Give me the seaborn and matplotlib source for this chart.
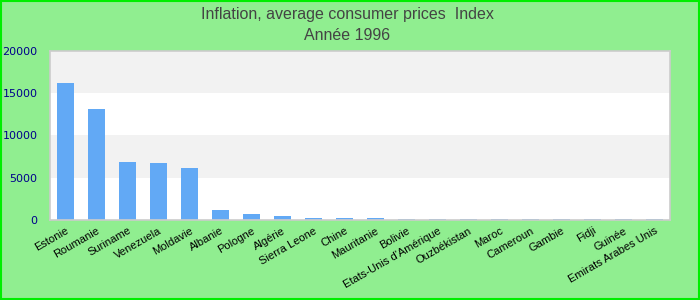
import matplotlib
matplotlib.use("Agg")
import matplotlib.pyplot as plt
import seaborn as sns
import pandas as pd
from matplotlib.patches import Rectangle

countries = ["Estonie", "Roumanie", "Suriname", "Venezuela", "Moldavie", "Albanie",
             "Pologne", "Algérie", "Sierra Leone", "Chine", "Mauritanie", "Bolivie",
             "Etats-Unis d'Amérique", "Ouzbékistan", "Maroc", "Cameroun", "Gambie",
             "Fidji", "Guinée", "Emirats Arabes Unis"]
values = [16200, 13150, 6870, 6750, 6150, 1190, 720, 480, 250, 240, 230,
          125, 120, 120, 120, 120, 120, 120, 120, 120]
yticks = [0, 5000, 10000, 15000, 20000]
title_lines = ["Inflation, average consumer prices  Index", "Année 1996"]

df = pd.DataFrame({"pays": countries, "valeur": values})

sns.set_theme(style="white")
plt.rcParams["font.family"] = ["Liberation Sans", "DejaVu Sans"]

fig = plt.figure(figsize=(7, 3), dpi=100)
fig.patch.set_facecolor("#90EE90")
fig.patches.append(Rectangle((0.001, 0.003), 0.997, 0.994, transform=fig.transFigure,
                             fill=False, edgecolor="#00EE00", linewidth=1.5))

ax = fig.add_axes([50/700, 1-220/300, 620/700, 169/300])
ax.set_facecolor("white")
for lo, hi, c in [(0, 5000, "white"), (5000, 10000, "#F2F2F2"),
                  (10000, 15000, "white"), (15000, 20000, "#F2F2F2")]:
    ax.axhspan(lo, hi, color=c, zorder=0, linewidth=0)

sns.barplot(data=df, x="pays", y="valeur", color="#62A9F5", saturation=1,
            width=0.55, linewidth=0, edgecolor="none", ax=ax, zorder=2)

ax.set_ylim(0, 20000)
ax.set_xlim(-0.5, len(countries) - 0.5)
ax.set_yticks(yticks)
ax.set_yticklabels([str(v) for v in yticks], fontsize=8, color="#00008B",
                   fontfamily="DejaVu Sans")
ax.tick_params(axis="y", length=0, pad=9)
ax.tick_params(axis="x", length=0, pad=4)
ax.set_xticks(range(len(countries)))
ax.set_xticklabels(countries, rotation=30, ha="right", rotation_mode="anchor",
                   fontsize=8, color="black")
ax.set_xlabel("")
ax.set_ylabel("")
for s in ax.spines.values():
    s.set_color("#CCCCCC")
    s.set_linewidth(1.2)
    s.set_zorder(3)

fig.text(347/700, 1-14/300, title_lines[0], ha="center", va="center",
         fontsize=11.5, color="#444444")
fig.text(347/700, 1-35/300, title_lines[1], ha="center", va="center",
         fontsize=11.5, color="#444444")

fig.savefig("out.png", dpi=100, facecolor=fig.get_facecolor())
